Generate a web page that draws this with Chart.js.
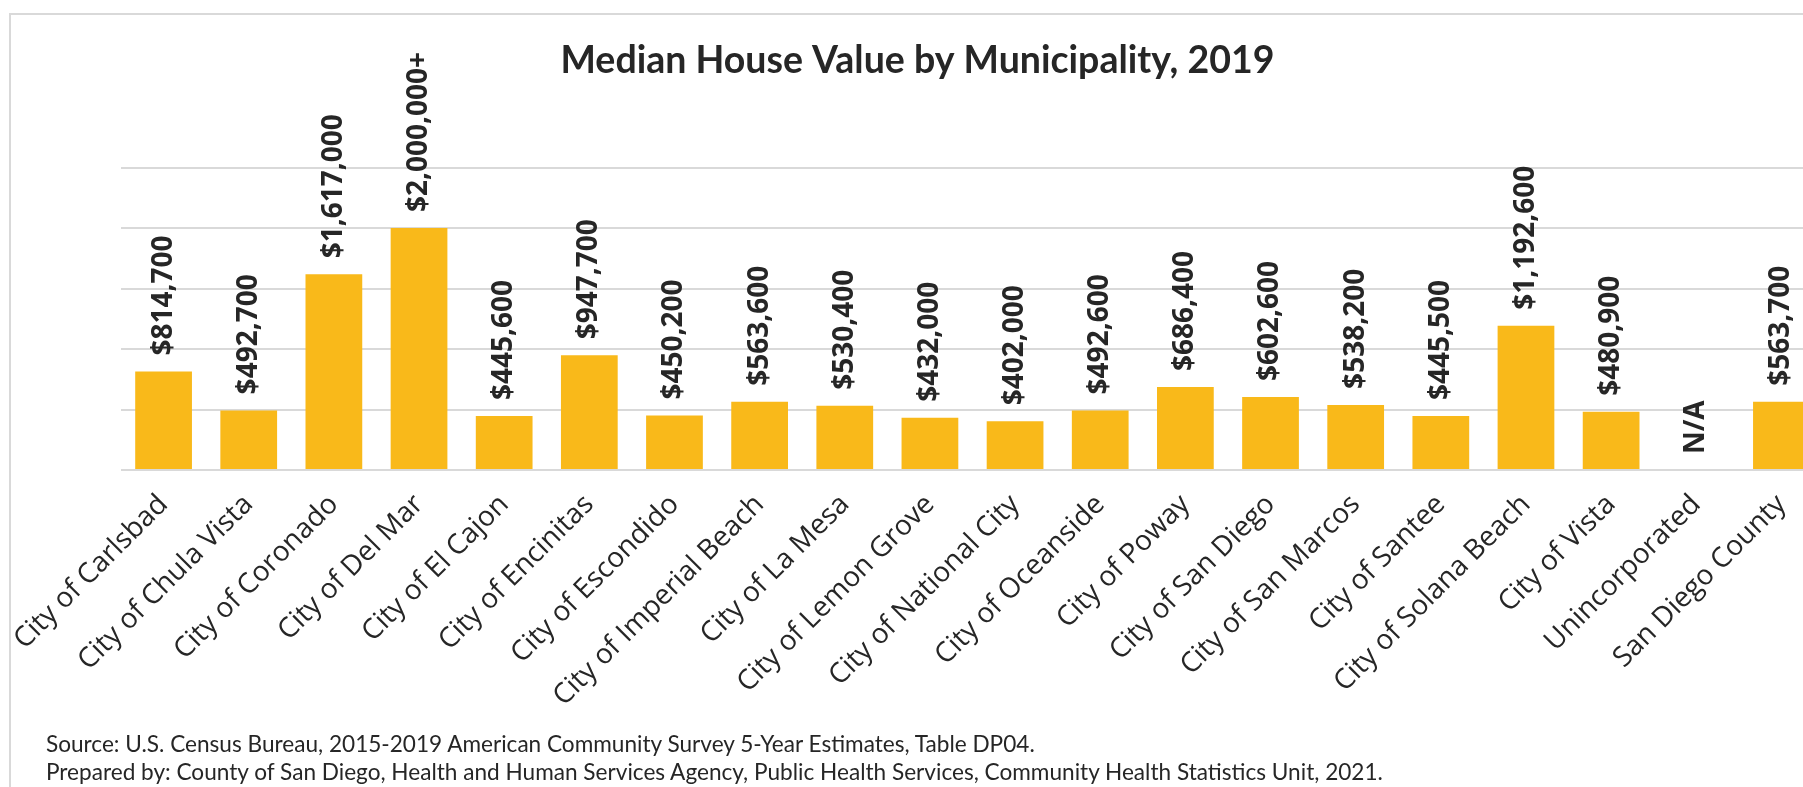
<!DOCTYPE html>
<html>
<head>
<meta charset="utf-8">
<title>Median House Value by Municipality, 2019</title>
<script src="https://cdn.jsdelivr.net/npm/chart.js@4.4.1/dist/chart.umd.min.js"></script>
<style>
  html, body { margin: 0; padding: 0; background: #fff; width: 1803px; height: 787px; overflow: hidden; }
  #frame { position: absolute; left: 9px; top: 13px; width: 1900px; height: 900px;
           border-left: 2px solid #d9d9d9; border-top: 2px solid #d9d9d9; }
  #wrap { position: absolute; left: 0; top: 0; width: 1834px; height: 787px; }
  #source { position: absolute; left: 46px; top: 730px; font-family: Lato, sans-serif;
            font-size: 22.6px; line-height: 28px; color: #262626; white-space: nowrap; }
</style>
</head>
<body>
<div id="frame"></div>
<div id="wrap"><canvas id="houseChart" width="1834" height="787"></canvas></div>
<div id="source">
  Source: U.S. Census Bureau, 2015-2019 American Community Survey 5-Year Estimates, Table DP04.<br>
  Prepared by: County of San Diego, Health and Human Services Agency, Public Health Services, Community Health Statistics Unit, 2021.
</div>
<script>
const municipalities = [
  "City of Carlsbad", "City of Chula Vista", "City of Coronado", "City of Del Mar",
  "City of El Cajon", "City of Encinitas", "City of Escondido", "City of Imperial Beach",
  "City of La Mesa", "City of Lemon Grove", "City of National City", "City of Oceanside",
  "City of Poway", "City of San Diego", "City of San Marcos", "City of Santee",
  "City of Solana Beach", "City of Vista", "Unincorporated", "San Diego County"
];
// median house value, dollars (null = not available)
const medianValue = [
  814700, 492700, 1617000, 2000000,
  445600, 947700, 450200, 563600,
  530400, 432000, 402000, 492600,
  686400, 602600, 538200, 445500,
  1192600, 480900, null, 563700
];
// values reported as "or more"
const openEnded = ["City of Del Mar"];
const yTicks = [0, 500000, 1000000, 1500000, 2000000, 2500000];

const valueText = medianValue.map((v, i) => {
  if (v === null) return "N/A";
  return "$" + v.toLocaleString("en-US") + (openEnded.includes(municipalities[i]) ? "+" : "");
});

const barLabels = {
  id: "barLabels",
  afterDatasetsDraw(chart) {
    const { ctx } = chart;
    const x = chart.scales.x, y = chart.scales.y;
    ctx.save();
    ctx.font = 'bold 28px "Open Sans"';
    ctx.fillStyle = "#262626";
    ctx.textAlign = "left";
    ctx.textBaseline = "middle";
    medianValue.forEach((v, i) => {
      const px = x.getPixelForValue(i);
      const py = y.getPixelForValue(v === null ? 0 : v) - 16;
      ctx.save();
      ctx.translate(px, py);
      ctx.rotate(-Math.PI / 2);
      ctx.fillText(valueText[i], 0, 0);
      ctx.restore();
    });
    ctx.restore();
  }
};

new Chart(document.getElementById("houseChart"), {
  type: "bar",
  data: {
    labels: municipalities,
    datasets: [{
      label: "Median House Value",
      data: medianValue,
      backgroundColor: "#f9b91a",
      barPercentage: 0.8,
      categoryPercentage: 0.833
    }]
  },
  options: {
    responsive: false,
    animation: false,
    layout: { padding: { left: 11, right: 10, top: 0, bottom: 0 } },
    plugins: {
      legend: { display: false },
      tooltip: { enabled: false },
      title: {
        display: true,
        text: "Median House Value by Municipality, 2019",
        color: "#262626",
        font: { family: "Lato", size: 37.5, weight: "bold" },
        padding: { top: 38, bottom: 84.5 }
      }
    },
    scales: {
      x: {
        grid: { display: false },
        border: { display: false },
        ticks: {
          color: "#262626",
          font: { family: "Open Sans", size: 28 },
          minRotation: 45,
          maxRotation: 45,
          autoSkip: false,
          padding: 10
        },
        afterFit: (scale) => { scale.height = 317; }
      },
      y: {
        min: 0,
        max: 2500000,
        afterBuildTicks: (scale) => { scale.ticks = yTicks.map(v => ({ value: v })); },
        afterFit: (scale) => { scale.width = 110; },
        ticks: { display: false },
        grid: { color: "#d9d9d9", lineWidth: 2, drawTicks: false },
        border: { display: false }
      }
    }
  },
  plugins: [barLabels]
});
</script>
</body>
</html>
